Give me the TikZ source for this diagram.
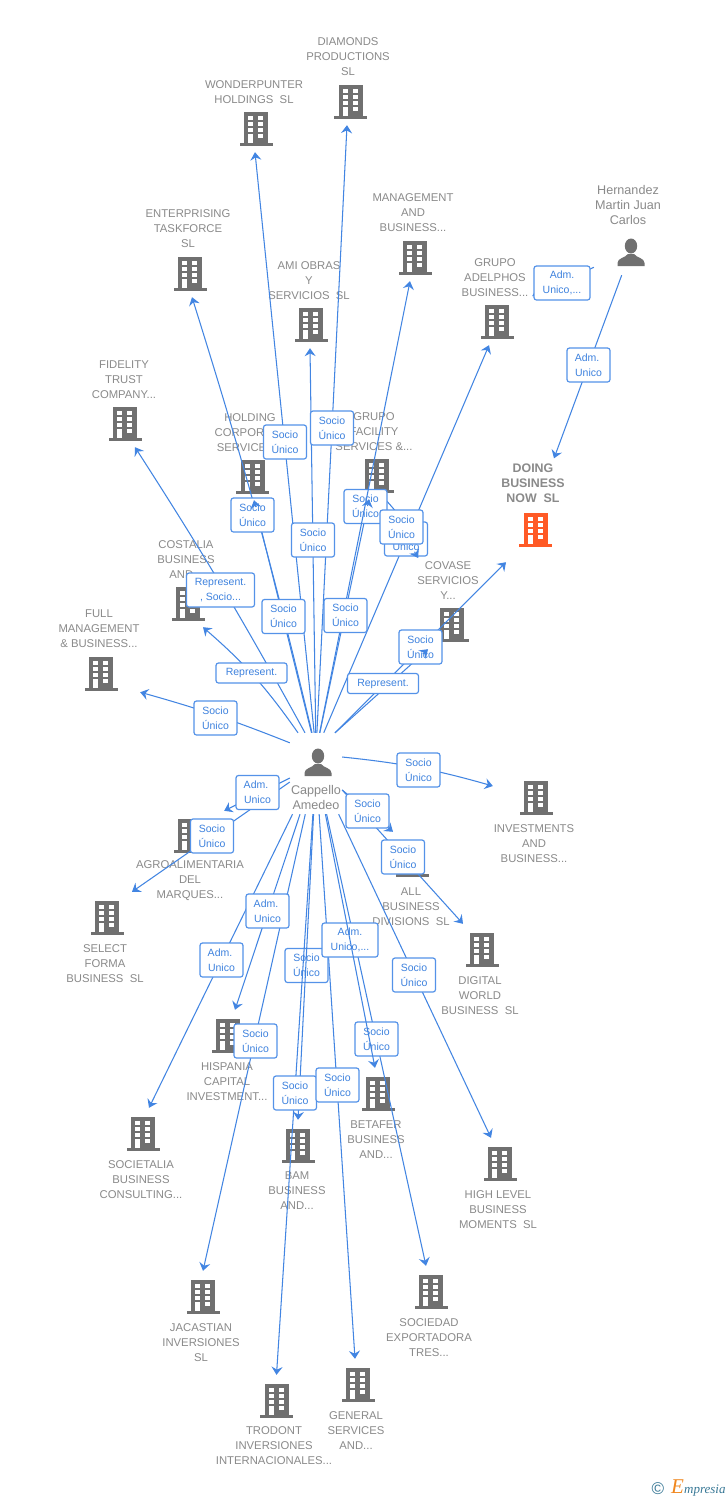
\documentclass[tikz,border=0pt]{standalone}
\usepackage{fontspec}
\setmainfont{Liberation Sans}
\newfontfamily\serifit{Liberation Serif}
\usetikzlibrary{arrows.meta,calc}
\definecolor{linkc}{RGB}{66,133,226}
\definecolor{boxc}{RGB}{84,146,232}
\definecolor{boxt}{RGB}{62,130,222}
\definecolor{txtc}{RGB}{138,138,138}
\definecolor{iconc}{RGB}{112,112,112}
\definecolor{hotc}{RGB}{255,90,38}
\definecolor{logot}{RGB}{56,120,150}
\definecolor{logoo}{RGB}{240,135,30}
\tikzset{
  bnode/.style={inner sep=0,minimum width=86pt,minimum height=49pt},
  btext/.style={inner sep=0,align=center,text=txtc,font=\fontsize{11.3}{15}\selectfont},
  ptext/.style={inner sep=0,align=center,text=txtc,font=\fontsize{12.6}{15}\selectfont},
  dtext/.style={inner sep=0,align=center,text=txtc,font=\fontsize{12.4}{15}\selectfont\bfseries,minimum height=50pt},
  link/.style={draw=linkc,line width=1.05pt,-{Stealth[length=8pt,width=11pt,inset=2.8pt]}},
  tag/.style={draw=boxc,line width=1.2pt,rounded corners=2.5pt,fill=white,inner sep=0,align=center,text=boxt,
    font=\fontsize{10.5}{15}\selectfont,minimum width=43pt,minimum height=34pt},
  tagw/.style={tag,minimum width=56pt},
  tagr/.style={tag,minimum width=71pt,minimum height=20pt},
  tagrs/.style={tag,minimum width=68pt},
}
\newcommand\iconb[3]{%
  \begin{scope}[shift={(#1,#2)}]
    \fill[#3] (-12,-17) rectangle (12,14.5);
    \fill[#3] (-16.5,14) rectangle (16.5,17);
    \foreach \yy in {-13,-7,-1}{
      \fill[white] (-8,\yy) rectangle (-3,\yy+4);
      \fill[white] (2,\yy) rectangle (7,\yy+4);
    }
    \fill[white] (-8,5) rectangle (-3,14);
    \fill[white] (2,5) rectangle (7,9);
  \end{scope}}
\newcommand\iconp[2]{%
  \begin{scope}[shift={(#1,#2)}]
    \fill[iconc] (0,-7) ellipse (6.2 and 7.5);
    \fill[iconc] (-13.5,13) -- (-13.5,10) .. controls (-13.5,5) and (-6,5) .. (-3,1) -- (3,1) .. controls (6,5) and (13.5,5) .. (13.5,10) -- (13.5,13) -- cycle;
  \end{scope}}
% name, icon x, icon y, text x, text y, text
\newcommand\bldg[6]{%
  \node[bnode] (#1) at (#2,#3-1.5) {};
  \iconb{#2}{#3}{iconc}
  \node[btext] (#1-t) at (#4,#5+1) {#6};}
\newcommand\SU{Socio\\Único}
\newcommand\AU{Adm.\hspace*{3pt}\\Unico}
\begin{document}
\begin{tikzpicture}[x=1pt,y=-1pt]
\fill[white] (0,0) rectangle (728,1500);
\useasboundingbox (0,0) rectangle (728,1500);

% companies
\bldg{diamonds}{350.5}{102}{348}{56}{DIAMONDS\\PRODUCTIONS\\SL}
\bldg{wonder}{256}{129}{254}{91.5}{WONDERPUNTER\\HOLDINGS\ \ SL}
\bldg{enter}{190}{274}{188}{228}{ENTERPRISING\\TASKFORCE\\SL}
\bldg{manage}{415}{258}{413}{212}{MANAGEMENT\\AND\\BUSINESS...}
\bldg{ami}{311}{325}{309}{280}{AMI OBRAS\\Y\\SERVICIOS\ \ SL}
\bldg{adelphos}{497}{322}{495}{277}{GRUPO\\ADELPHOS\\BUSINESS...}
\bldg{fidelity}{125}{424}{124}{379}{FIDELITY\\TRUST\\COMPANY...}
\bldg{holding}{252.5}{477}{250}{432}{HOLDING\\CORPORATE\\SERVICES...}
\bldg{facility}{377}{476}{374}{431}{GRUPO\\FACILITY\\SERVICES \&...}
\bldg{costalia}{188}{604}{186}{559}{COSTALIA\\BUSINESS\\AND...}
\bldg{covase}{452}{625}{448}{580}{COVASE\\SERVICIOS\\Y...}
\bldg{full}{101}{674}{99}{628}{FULL\\MANAGEMENT\\\& BUSINESS...}
\bldg{invest}{536}{798}{534}{843}{INVESTMENTS\\AND\\BUSINESS...}
\bldg{agro}{190}{836}{190}{880}{AGROALIMENTARIA\\DEL\\MARQUES...}
\bldg{allb}{412}{860}{411}{906}{ALL\\BUSINESS\\DIVISIONS\ \ SL}
\bldg{selectf}{107}{918}{105}{963}{SELECT\\FORMA\\BUSINESS\ \ SL}
\bldg{digital}{482}{950}{480}{995}{DIGITAL\\WORLD\\BUSINESS\ \ SL}
\bldg{hispania}{228}{1036}{227}{1081}{HISPANIA\\CAPITAL\\INVESTMENT...}
\bldg{betafer}{378}{1094}{376}{1139}{BETAFER\\BUSINESS\\AND...}
\bldg{societalia}{143}{1134}{141}{1179}{SOCIETALIA\\BUSINESS\\CONSULTING...}
\bldg{bam}{298}{1146}{297}{1190}{BAM\\BUSINESS\\AND...}
\bldg{high}{500}{1164}{498}{1209}{HIGH LEVEL\\BUSINESS\\MOMENTS\ \ SL}
\bldg{jacastian}{203}{1297}{201}{1342}{JACASTIAN\\INVERSIONES\\SL}
\bldg{sociedad}{431}{1292}{429}{1337}{SOCIEDAD\\EXPORTADORA\\TRES...}
\bldg{trodont}{276.5}{1401}{274}{1445}{TRODONT\\INVERSIONES\\INTERNACIONALES...}
\bldg{general}{358}{1385}{356}{1430}{GENERAL\\SERVICES\\AND...}

% target company
\node[inner sep=0,minimum width=86pt,minimum height=64pt] (doing) at (535,530) {};
\iconb{535.5}{530}{hotc}
\node[dtext] (doing-t) at (533,483.5) {DOING\\BUSINESS\\NOW\ \ SL};

% people
\node[inner sep=0,minimum width=74pt,minimum height=50pt] (hern) at (631,250) {};
\iconp{631}{253}
\node[ptext] (hern-t) at (628,205) {Hernandez\\Martin Juan\\Carlos};
\node[inner sep=0,minimum width=52pt,minimum height=36pt] (hub) at (316,751) {};
\node[inner sep=0,minimum width=52pt,minimum height=96pt] (hubl) at (316,766) {};
\iconp{318}{763}
\node[ptext] (hub-t) at (316,797) {Cappello\\Amedeo};

% connectors, first group
\draw[link] (hub) -- ([xshift=-1pt]wonder.south);
\draw[link] (hub) -- ([xshift=-3.5pt]diamonds.south);
\draw[link] ([xshift=-4pt]hub.north) to[bend right=2] ([xshift=2pt]enter.south);
\draw[link] (hub) -- ([xshift=-1pt]ami.south);
\draw[link] (hub) -- ([xshift=-8pt]adelphos.south);
\draw[link] ([xshift=-11pt]hub.north) to[bend right=2] ([xshift=10pt]fidelity.south);
\coordinate (holdtip) at ([xshift=1.5pt]holding.south);
\draw[link] (hub) -- (holdtip);
\coordinate (factip) at ([xshift=-8pt]facility.south);
\draw[link] (hub) -- (factip);
\draw[link] ([xshift=-18pt]hub.north) to[bend right=7] ([xshift=15pt]costalia.south);
\draw[link] ([yshift=-10pt]hub.north west) to[bend right=3] ([xshift=-4pt,yshift=5pt]full.south east);
\coordinate (covtip) at ([xshift=-24pt,yshift=-1pt]covase.south);
\draw[link] ([xshift=19pt]hub.north) -- (covtip);
\draw[link] ([xshift=19pt]hub.north) -- ([xshift=-29pt]doing.south);
\coordinate (fcovtip) at ([xshift=-30pt,yshift=4pt]covase-t.north);
\coordinate (fcovst) at ([xshift=8pt]facility.south);
\draw[link] (fcovst) to[bend left=14] (fcovtip);
\draw[link] (hern) -- ([xshift=21pt]doing-t.north);
\draw[link] (hern) -- ([xshift=-8pt,yshift=24.5pt]adelphos.east);

\draw[link] ([yshift=9pt]hubl.east) to[bend left=5] ([yshift=10.5pt]invest.west);
\draw[link] ([yshift=-12pt]hubl.west) -- ([xshift=-9pt,yshift=-1pt]agro.north east);
\draw[link] ([yshift=-16pt]hubl.west) -- ([xshift=25pt]selectf.north);
\draw[link] ([yshift=-24pt]hubl.east) -- ([xshift=-19pt,yshift=2pt]allb.north);
\draw[link] ([yshift=-24pt]hubl.east) -- ([xshift=-19pt]digital.north);
\draw[link] (hubl) -- ([xshift=6pt]societalia.north);
\draw[link] (hubl) -- ([xshift=7pt]hispania.north);
\draw[link] (hubl) -- (jacastian.north);
\draw[link] (hubl) -- ([xshift=-3pt]general.north);
\draw[link] (hubl) -- ([xshift=-5pt]sociedad.north);
\draw[link] (hubl) -- ([xshift=-9pt]high.north);

% connector labels
\node[tag] (l1) at (285,442) {\SU};
\node[tag] (l2) at (332,428) {\SU};
\node[tag] (l3) at (252.5,515) {\SU};
\node[tag] (l4) at (283.5,616.5) {\SU};
\node[tag] (l5) at (313,540) {\SU};
\node[tag] (l7) at (365.5,506.5) {\SU};
\draw[link] (hub) -- ([xshift=-5pt]manage.south);
\node[tag] (l6) at (345.5,615.5) {\SU};
\node[tag] (l8) at (406,539) {\SU};
\node[tag] (l9) at (401.5,527) {\SU};
\node[tagrs] (l10) at (220.5,590) {Represent.\\, Socio...};
\node[tagr] (l11) at (251.5,673) {Represent.};
\node[tagr] (l12) at (383,683.5) {Represent.};
\node[tag] (l13) at (420.5,647) {\SU};
\node[tag] (l14) at (215.5,718) {\SU};
\node[tag] (l15) at (588.5,365) {\AU};
\node[tagw] (l16) at (562,283) {Adm.\\Unico,...};
\node[tag] (l17) at (418.5,770) {\SU};
\node[tag] (l18) at (257.5,792.5) {\AU};
\node[tag] (l19) at (367.5,811) {\SU};
\node[tag] (l20) at (212,836) {\SU};
\node[tag] (l21) at (403,857) {\SU};
\node[tag] (l22) at (267.5,911) {\AU};
\node[tag] (l23) at (221.5,960) {\AU};
\node[tag] (l24) at (306.5,965.5) {\SU};
\draw[link] (hubl) -- (trodont.north);
\draw[link] (hubl) -- (bam.north);
\node[tagw] (l25) at (350,940) {Adm.\\Unico,...};
\node[tag] (l26) at (414,975) {\SU};
\node[tag] (l27) at (255.5,1041) {\SU};
\node[tag] (l28) at (376.5,1039) {\SU};
\draw[link] (hubl) -- ([xshift=-3pt]betafer.north);
\node[tag] (l29) at (295,1093) {\SU};
\node[tag] (l30) at (337.5,1085) {\SU};

% arrowheads lying over labels
\draw[link] ($(holdtip)!7pt!(hub)$) -- (holdtip);
\draw[link] ($(factip)!7pt!(hub)$) -- (factip);
\draw[link] ($(covtip)!7pt!(hub)$) -- (covtip);
\draw[link] ($(fcovtip)!7pt!(fcovst)$) -- (fcovtip);

% logo
\node[inner sep=0,text=logot,font=\fontsize{17}{17}\selectfont] (logoc) at (658,1488.5) {©};
\node[inner sep=0,text=logoo,font=\fontsize{21}{21}\selectfont\serifit\itshape] (logoe) at (677.5,1487) {E};
\node[inner sep=0,text=logot,anchor=base west,font=\fontsize{13}{13}\selectfont\serifit\itshape] (logom) at (684,1493) {mpresia};
\end{tikzpicture}
\end{document}
